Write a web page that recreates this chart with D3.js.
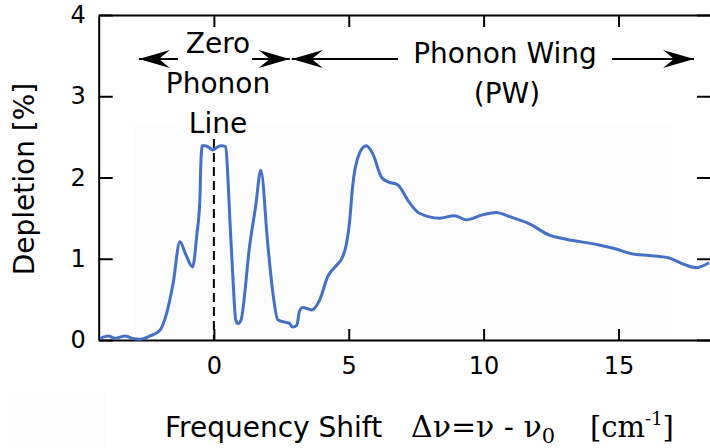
<!DOCTYPE html>
<html>
<head>
<meta charset="utf-8">
<script src="https://cdn.jsdelivr.net/npm/d3@7/dist/d3.min.js"></script>
<style>
  html, body { margin: 0; padding: 0; background: #fff; }
  svg { display: block; }
  text { font-family: "DejaVu Sans", Verdana, sans-serif; fill: #000; }
</style>
</head>
<body>
<svg id="chart" width="710" height="448"></svg>
<script>
// Frequency shift (cm^-1) and hole depletion (%) of the measured spectrum
const shift = [
  -4.22, -3.92, -3.66, -3.29, -3.03, -2.74, -2.37, -2.0, -1.75, -1.51,
  -1.26, -1.04, -0.79, -0.63, -0.52, -0.48, -0.43, -0.33, -0.19, -0.04,
  0.11, 0.26, 0.44, 0.52, 0.59, 0.70, 0.81, 0.89, 1.0, 1.33,
  1.55, 1.74, 2.0, 2.18, 2.37, 2.63, 2.78, 2.92, 3.07, 3.18,
  3.29, 3.63, 3.92, 4.22, 4.55, 4.74, 4.92, 5.03, 5.14, 5.40,
  5.65, 5.88, 6.22, 6.44, 6.81, 7.25, 7.62, 8.36, 8.92, 9.36,
  9.96, 10.47, 10.95, 11.7, 12.44, 13.06, 14.28, 14.91, 15.51, 16.14,
  16.88, 17.36, 17.88, 18.36
];
const depletion = [
  0.02, 0.05, 0.02, 0.05, 0.02, 0.01, 0.05, 0.12, 0.33, 0.70,
  1.21, 1.05, 0.90, 1.30, 1.72, 2.20, 2.39, 2.39, 2.37, 2.34,
  2.37, 2.39, 2.38, 2.00, 1.50, 0.80, 0.25, 0.20, 0.24, 1.17,
  1.65, 2.09, 1.17, 0.60, 0.25, 0.22, 0.21, 0.16, 0.18, 0.36,
  0.40, 0.37, 0.49, 0.78, 0.92, 1.00, 1.19, 1.45, 1.88, 2.30,
  2.39, 2.30, 2.00, 1.95, 1.91, 1.69, 1.56, 1.50, 1.53, 1.48,
  1.54, 1.57, 1.52, 1.43, 1.29, 1.24, 1.17, 1.12, 1.06, 1.04,
  1.01, 0.94, 0.89, 0.95
];

const xTicks = [0, 5, 10, 15];
const yTicks = [0, 1, 2, 3, 4];

// Spectral regions marked above the curve
const zplRange = [-2.78, 2.81];
const pwRange = [2.89, 17.8];

const svg = d3.select("#chart");

const plotL = 98.7, plotR = 711, plotT = 15, plotB = 340;
const x = d3.scaleLinear().domain([-4.27, 18.43]).range([plotL, plotR]);
const y = d3.scaleLinear().domain([0, 4]).range([plotB, plotT]);

// faint backdrop behind the spectrum
svg.append("rect")
  .attr("x", 135).attr("y", 124).attr("width", 537).attr("height", 212)
  .attr("fill", "#fcfcfc");
svg.append("rect")
  .attr("x", 8).attr("y", 392).attr("width", 98).attr("height", 56)
  .attr("fill", "#fdfdfd");

const axisStyle = g => {
  g.select(".domain").attr("stroke", "#000").attr("stroke-width", 2);
  g.selectAll(".tick line").attr("stroke", "#000").attr("stroke-width", 2);
  g.selectAll(".tick text")
    .attr("font-family", "DejaVu Sans, Verdana, sans-serif")
    .attr("font-size", 24).attr("fill", "#000");
};

svg.append("g").attr("transform", `translate(0,${plotB})`)
  .call(d3.axisBottom(x).tickValues(xTicks).tickSize(-11).tickSizeOuter(0)
    .tickPadding(17).tickFormat(d3.format("d")))
  .call(axisStyle);
svg.append("g").attr("transform", `translate(0,${plotT})`)
  .call(d3.axisTop(x).tickValues(xTicks).tickSize(-12).tickSizeOuter(0).tickFormat(""))
  .call(axisStyle);
svg.append("g").attr("transform", `translate(${plotL},0)`)
  .call(d3.axisLeft(y).tickValues(yTicks).tickSize(-14).tickSizeOuter(0)
    .tickPadding(13).tickFormat(d3.format("d")))
  .call(axisStyle);
svg.append("g").attr("transform", `translate(${plotR},0)`)
  .call(d3.axisRight(y).tickValues(yTicks).tickSize(-14).tickSizeOuter(0).tickFormat(""))
  .call(axisStyle);

// zero-shift marker
svg.append("line")
  .attr("x1", x(0)).attr("x2", x(0))
  .attr("y1", 139).attr("y2", plotB)
  .attr("stroke", "#000").attr("stroke-width", 2)
  .attr("stroke-dasharray", "9,5");

// spectrum
const defs = svg.append("defs");
defs.append("filter").attr("id", "soft")
  .append("feGaussianBlur").attr("stdDeviation", 0.5);

const pts = shift.map((s, i) => [s, depletion[i]]);
svg.append("path")
  .datum(pts)
  .attr("fill", "none")
  .attr("stroke", "#4470c6")
  .attr("stroke-width", 3)
  .attr("stroke-linejoin", "round")
  .attr("filter", "url(#soft)")
  .attr("d", d3.line().x(d => x(d[0])).y(d => y(d[1])).curve(d3.curveMonotoneX));

// barbed arrowhead pointing in direction dir (+1 right, -1 left)
function arrowHead(tipX, yy, dir) {
  const L = 31, H = 9, notch = 20;
  const bx = tipX - dir * L, nx = tipX - dir * notch;
  return `M${tipX},${yy} L${bx},${yy - H} L${nx},${yy} L${bx},${yy + H} Z`;
}
const ay = 59;
const arrows = svg.append("g");
// zero phonon line bracket
arrows.append("line").attr("x1", x(zplRange[0])).attr("x2", 178)
  .attr("y1", ay).attr("y2", ay).attr("stroke", "#000").attr("stroke-width", 2);
arrows.append("line").attr("x1", 252).attr("x2", x(zplRange[1]))
  .attr("y1", ay).attr("y2", ay).attr("stroke", "#000").attr("stroke-width", 2);
arrows.append("path").attr("d", arrowHead(x(zplRange[0]), ay, -1)).attr("fill", "#000");
arrows.append("path").attr("d", arrowHead(x(zplRange[1]), ay, 1)).attr("fill", "#000");
// phonon wing bracket
arrows.append("line").attr("x1", x(pwRange[0])).attr("x2", 398)
  .attr("y1", ay).attr("y2", ay).attr("stroke", "#000").attr("stroke-width", 2);
arrows.append("line").attr("x1", 612).attr("x2", x(pwRange[1]))
  .attr("y1", ay).attr("y2", ay).attr("stroke", "#000").attr("stroke-width", 2);
arrows.append("path").attr("d", arrowHead(x(pwRange[0]), ay, -1)).attr("fill", "#000");
arrows.append("path").attr("d", arrowHead(x(pwRange[1]), ay, 1)).attr("fill", "#000");

const zx = 218;
[["Zero", 53], ["Phonon", 93], ["Line", 133]].forEach(([t, yy]) => {
  svg.append("text").attr("x", zx).attr("y", yy)
    .attr("text-anchor", "middle").attr("font-size", 28).text(t);
});
svg.append("text").attr("x", 505).attr("y", 63)
  .attr("text-anchor", "middle").attr("font-size", 28).text("Phonon Wing");
svg.append("text").attr("x", 507).attr("y", 103)
  .attr("text-anchor", "middle").attr("font-size", 28).text("(PW)");

// axis titles
svg.append("text")
  .attr("transform", "translate(34,179) rotate(-90)")
  .attr("text-anchor", "middle").attr("font-size", 28)
  .text("Depletion [%]");

svg.append("text").attr("x", 165).attr("y", 437)
  .attr("font-size", 28).text("Frequency Shift");

const serif = "DejaVu Serif, Liberation Serif, serif";
const xm = svg.append("text").attr("y", 437).attr("x", 411)
  .style("font-family", serif).attr("font-size", 30);
xm.append("tspan").style("font-family", serif).text("Δν=ν - ν");
xm.append("tspan").style("font-family", serif).attr("font-size", 21).attr("dy", 6).text("0");

const xu = svg.append("text").attr("y", 437).attr("x", 590)
  .style("font-family", serif).attr("font-size", 29);
xu.append("tspan").style("font-family", serif).text("[cm");
xu.append("tspan").style("font-family", serif).attr("font-size", 18).attr("dy", -12).text("-1");
xu.append("tspan").style("font-family", serif).attr("dy", 12).text("]");
</script>
</body>
</html>
